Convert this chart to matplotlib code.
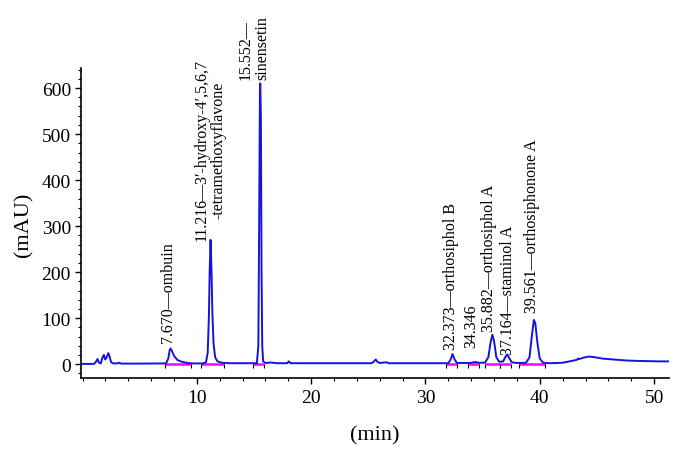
import matplotlib
matplotlib.use("Agg")
import matplotlib.pyplot as plt
from matplotlib.ticker import MultipleLocator

# Chromatogram trace (time in min, absorbance in mAU)
time_min = [0.0, 1.0, 1.15, 1.3, 1.45, 1.6, 1.75, 1.87, 1.98, 2.1, 2.25, 2.35, 2.5, 2.7,
            3.0, 3.2, 3.4, 5.0, 7.3, 7.5, 7.62, 7.7, 7.8, 8.0, 8.3, 8.7, 9.2, 9.7,
            10.5, 10.8, 10.95, 11.05, 11.12, 11.2, 11.28, 11.36, 11.46, 11.6, 11.8, 12.2, 12.8,
            15.25, 15.38, 15.45, 15.52, 15.55, 15.6, 15.66, 15.72, 15.8, 16.0, 16.5, 17.0,
            17.9, 18.05, 18.2, 22.0, 25.3, 25.5, 25.65, 25.8, 26.0, 26.4, 26.6, 26.8,
            32.0, 32.2, 32.37, 32.55, 32.75, 33.9, 34.2, 34.4, 34.6, 35.2, 35.5, 35.7,
            35.85, 36.0, 36.2, 36.45, 36.8, 37.0, 37.15, 37.3, 37.55, 38.0, 38.8, 39.1,
            39.3, 39.48, 39.6, 39.8, 40.0, 40.3, 40.8, 41.5, 42.0, 42.5, 43.0, 43.3, 43.35,
            43.45, 43.8, 44.3, 44.8, 45.5, 46.5, 47.5, 48.5, 49.5, 50.5, 51.3]
absorbance = [0.5, 0.5, 4, 11, 3, 1.5, 15, 20, 10, 14, 24, 18, 4, 1.5,
              1.5, 3, 1.2, 1.2, 1.5, 12, 30, 34, 30, 18, 9, 5, 2.5, 1.5,
              1.5, 4, 25, 100, 200, 270, 205, 110, 45, 15, 6, 3, 2,
              2, 40, 300, 600, 610, 540, 200, 40, 6, 2.5, 3.5, 2,
              2, 6, 2, 2, 2, 6, 10, 5, 2.5, 3.5, 4, 2,
              2, 10, 22, 10, 2.5, 2.5, 4, 4.5, 3, 3, 15, 48,
              64, 50, 15, 5, 6, 16, 21, 14, 4, 2.5, 3, 15,
              60, 96, 90, 45, 12, 3, 2, 2.5, 3, 5.5, 8, 10, 12,
              11, 14, 16.5, 15, 12, 10, 8, 7, 6.5, 6, 6]

# Integration baselines (start, end) in min
baseline_start = [7.2, 10.4, 14.9, 31.8, 33.7, 35.2, 36.5, 38.2]
baseline_end = [9.5, 12.4, 15.9, 32.8, 34.7, 36.5, 37.5, 40.5]

# Peak annotations
label_text = ["7.670\u2014ombuin",
              "11.216\u20143\u2032-hydroxy-4\u2032,5,6,7\n-tetramethoxyflavone",
              "15.552\u2014\nsinensetin",
              "32.373\u2014orthosiphol B",
              "34.346",
              "35.882\u2014orthosiphol A",
              "37.164\u2014staminol A",
              "39.561\u2014orthosiphonone A"]
label_x = [7.5, 11.15, 15.0, 32.2, 34.0, 35.6, 37.2, 39.35]
label_y = [48, 270, 620, 33, 37, 72, 22, 113]

plt.rcParams['font.family'] = ['Liberation Serif', 'DejaVu Serif']

fig = plt.figure(figsize=(6.84, 4.56), dpi=100)
ax = fig.add_axes([0.119, 0.168, 0.859, 0.68])

for s, e in zip(baseline_start, baseline_end):
    ax.plot([s, e], [1.0, 1.0], color='#ff00ff', lw=1.8, zorder=2, solid_capstyle='butt')
    ax.plot([s, e], [-3, -3], ls='none', marker='|', color='black', ms=3, mew=0.8, zorder=2)

ax.plot(time_min, absorbance, color='#1414dc', lw=1.4, zorder=3)

for txt, x, y in zip(label_text, label_x, label_y):
    multi = 'left' if txt.startswith('15.552') else 'center'
    ax.text(x, y, txt, rotation=90, ha='center', va='bottom', fontsize=11.5,
            multialignment=multi, linespacing=1.05)

ax.set_xlim(-0.1, 51.3)
ax.set_ylim(-31, 643)
ax.spines['top'].set_visible(False)
ax.spines['right'].set_visible(False)
ax.spines['left'].set_linewidth(1.2)
ax.spines['bottom'].set_linewidth(1.2)
ax.xaxis.set_major_locator(MultipleLocator(10))
ax.xaxis.set_minor_locator(MultipleLocator(2))
ax.yaxis.set_major_locator(MultipleLocator(100))
ax.yaxis.set_minor_locator(MultipleLocator(20))
ax.set_xticks([10, 20, 30, 40, 50])
ax.tick_params(which='major', length=4, width=1, labelsize=14)
ax.tick_params(which='minor', length=2.5, width=0.8)
ax.set_xlabel('(min)', fontsize=16, labelpad=14)
ax.set_ylabel('(mAU)', fontsize=16, labelpad=6)

fig.savefig('out.png', dpi=100)
